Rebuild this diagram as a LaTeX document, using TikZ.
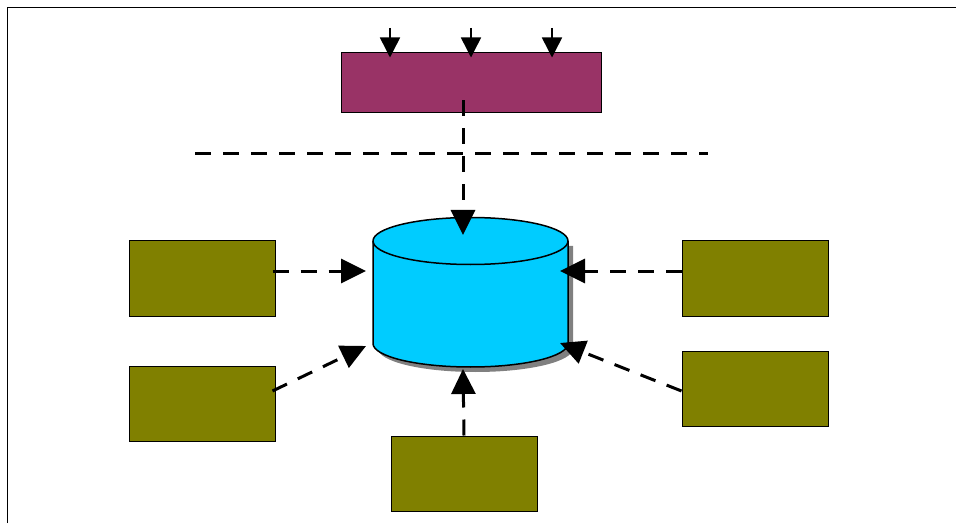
\documentclass[tikz,border=0pt]{standalone}
\usetikzlibrary{arrows.meta,calc}
\definecolor{plum}{HTML}{993366}
\definecolor{olivebox}{HTML}{808000}
\definecolor{dbblue}{HTML}{00CCFF}
\definecolor{shadowgray}{HTML}{808080}
\begin{document}
\begin{tikzpicture}[x=1pt,y=1pt,
  olive/.style={draw=black,line width=1pt,fill=olivebox,minimum width=146pt,minimum height=75pt,inner sep=0pt},
  topbox/.style={draw=black,line width=1pt,fill=plum,minimum width=260pt,minimum height=60pt,inner sep=0pt},
  flow/.style={line width=3pt,dash pattern=on 16pt off 12pt,-{Triangle[length=25pt,width=24pt]}},
  feed/.style={line width=1.5pt,-{Triangle[length=20pt,width=20pt]}},
  sep/.style={line width=3pt,dash pattern=on 16pt off 12pt}]
\useasboundingbox (0,0) rectangle (956,523);
% frame
\draw[line width=1.5pt] (7.5,0) -- (7.5,515.5) -- (956,515.5);
% top box
\node[topbox] (top) at (471,440) {};
\coordinate (in1) at (390,495);
\coordinate (in2) at (471,495);
\coordinate (in3) at (552,495);
\draw[feed] (in1) -- ([xshift=-81pt,yshift=-5pt]top.north);
\draw[feed] (in2) -- ([yshift=-5pt]top.north);
\draw[feed] (in3) -- ([xshift=81pt,yshift=-5pt]top.north);
% separator
\coordinate (sepL) at (195,369);
\coordinate (sepR) at (708,369);
\draw[sep] (sepL) -- (sepR);
% cylinder (database)
\fill[shadowgray] (378,277) -- (378,174.5) arc[start angle=180,end angle=360,x radius=97.5,y radius=23.5] -- (573,277) -- cycle;
\draw[line width=1.5pt,fill=dbblue] (373,282) -- (373,179.5) arc[start angle=180,end angle=360,x radius=97.5,y radius=23.5] -- (568,282) arc[start angle=0,end angle=180,x radius=97.5,y radius=23.5] -- cycle;
\draw[line width=1.5pt] (373,282) arc[start angle=180,end angle=360,x radius=97.5,y radius=23.5];
\node[inner sep=0pt,minimum width=195pt,minimum height=150pt] (db) at (470.5,231) {};
\coordinate (dbN) at (463,288);
\coordinate (dbW) at (366,252);
\coordinate (dbSW) at (366,177);
\coordinate (dbS) at (463,154);
\coordinate (dbE) at (560,252);
\coordinate (dbSE) at (560,180);
% olive boxes
\node[olive] (lt) at (202,244.5) {};
\node[olive] (lb) at (202,119.5) {};
\node[olive] (bc) at (464,49.5) {};
\node[olive] (rt) at (755,244.5) {};
\node[olive] (rb) at (755,134.5) {};
% connectors
\draw[flow] ([xshift=-8pt,yshift=13pt]top.south) -- (dbN);
\draw[flow] ([xshift=-3pt]lt.east |- dbW) -- (dbW);
\draw[flow] ([xshift=-3pt,yshift=12.5pt]lb.east) -- (dbSW);
\draw[flow] (bc.north) -- (dbS);
\draw[flow] (rt.west |- dbE) -- (dbE);
\draw[flow] ([yshift=-2.5pt]rb.west) -- (dbSE);
\end{tikzpicture}
\end{document}
